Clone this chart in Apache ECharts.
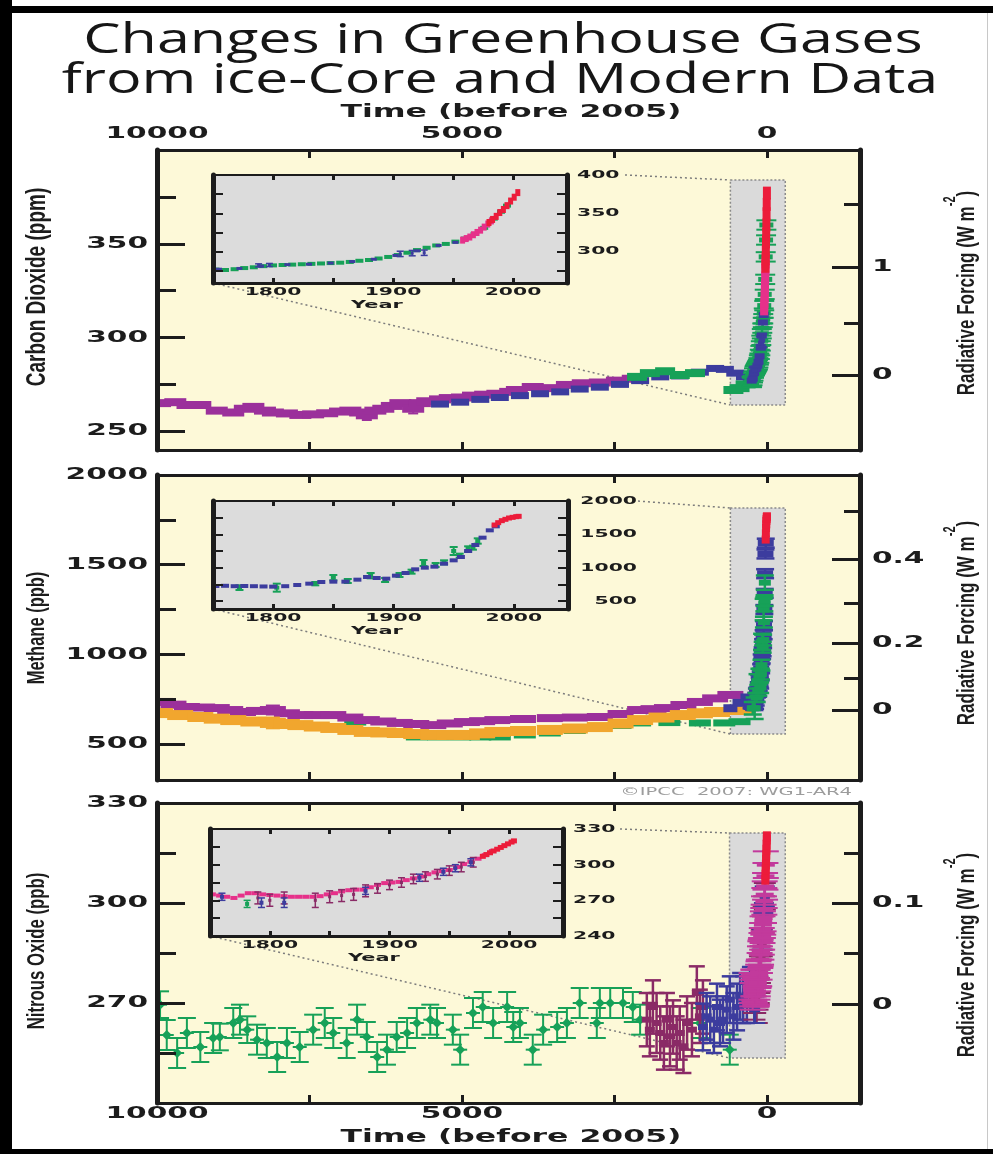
<!DOCTYPE html>
<html>
<head>
<meta charset="utf-8">
<title>Changes in Greenhouse Gases</title>
<script src="https://cdn.jsdelivr.net/npm/echarts@6/dist/echarts.min.js"></script>
<style>
html, body { margin: 0; padding: 0; background: #fff; }
#chart { width: 993px; height: 1154px; }
</style>
</head>
<body>
<div id="chart"></div>
<script>
// ---------- axes / ticks ----------
var timeTicks = [10000, 7500, 5000, 2500, 0];
var timeLabels = [10000, 5000, 0];
var yearTicks = [1800, 1850, 1900, 1950, 2000];
var yearLabels = [1800, 1900, 2000];

var co2Ticks = [250, 300, 350], co2Minor = [275, 325, 375];
var co2RfAt = [280, 337.6], co2RfLabels = ['0', '1'], co2RfMinor = [307.7, 371.2];
var co2InsetTicks = [275, 300, 325, 350, 375], co2InsetLabels = [300, 350, 400];
var co2Window = [600, -300, 264, 384];

var ch4Ticks = [500, 1000, 1500, 2000], ch4Minor = [750, 1250, 1750];
var ch4RfAt = [690, 1064, 1532], ch4RfLabels = ['0', '0.2', '0.4'], ch4RfMinor = [868, 1287, 1799];
var ch4InsetTicks = [500, 750, 1000, 1250, 1500, 1750], ch4InsetLabels = [500, 1000, 1500, 2000];
var ch4Window = [600, -300, 556, 1816];

var n2oTicks = [270, 300, 330], n2oMinor = [255, 285, 315];
var n2oRfAt = [269.5, 300], n2oRfLabels = ['0', '0.1'], n2oRfMinor = [285, 315];
var n2oInsetTicks = [255, 270, 285, 300, 315], n2oInsetLabels = [240, 270, 300, 330];
var n2oWindow = [614, -300, 253.5, 321];

// ---------- CO2 (ppm) : [years before 2005, value, error] ----------
var co2Purple = [[9950,265],[9700,265.5],[9500,264],[9290,264],[9020,261],[8750,260],[8560,262],[8420,263],[8230,261],[8100,260],
  [7870,259.5],[7650,258.7],[7440,259],[7210,259.6],[7000,260.5],[6830,261],[6670,260],[6560,258.5,2.5],[6420,261],[6290,262],
  [6150,263.5],[6010,265],[5800,262,2.5],[5690,265],[5570,266],[5360,267],[5200,267.7],[5000,268],[4820,269],[4620,269.5],
  [4420,270],[4210,271],[4100,272],[3840,273.6],[3560,273],[3280,274.7],[3020,275.6],[2740,276],[2460,277],[2200,278]];
var co2Blue = [[5360,264.5],[5030,265.5],[4700,267],[4380,268],[4050,269],[3720,270],[3390,271],[3070,272.5],[2740,273.5],
  [2410,275],[2080,277],[1750,279],[1430,279.5],[1100,281.5],[850,283.5],[690,283],[520,281],[360,279],[250,278]];
var co2Green = [[2130,279],[1920,281],[1670,282],[1430,280],[1180,281],[550,272],[450,273],[350,275]];
// modern records : [year, value, error]
var co2ModGreen = [[1752,276.5,2.5],[1760,276,2.5],[1768,277,2.5],[1776,278.5,2.5],[1784,279.5,2.5],[1792,281,2.5],[1800,282,2.5],
  [1808,282.5,2.5],[1816,283,2.5],[1824,283.5,2.5],[1832,284,2.5],[1840,284.5,2.5],[1848,285,2.5],[1856,285.5,2.5],[1864,286.5,2.5],
  [1872,288,2.5],[1880,289,2.5],[1888,291,2.5],[1896,293,2.5],[1904,295.5,2.5],[1912,298.5,2.5],[1920,302,2.5],[1928,305,2.5],
  [1936,308,2.5],[1944,310,2.5],[1952,313,2.5],[1960,317,2.5],[1968,323,2.5],[1976,331,2.5],[1984,343,2.5],[1990,352,2.5],[1995,360,2.5]];
var co2ModBlue = [[1755,277],[1772,278],[1790,281],[1812,283],[1830,283.5],[1848,285],[1866,287],[1884,290],[1902,295],[1920,301],[1938,308],[1952,312]];
var co2ModBars = [[1788,282,2],[1797,282.5,2],[1906,297,3.5],[1916,298,3.5],[1926,298.5,3.5]];
var co2ModPink = [[1958,315],[1961,317],[1964,319],[1967,322],[1970,325],[1973,328],[1976,332],[1979,336],[1982,340]];
var co2ModRed = [[1980,338],[1983,342],[1986,346],[1989,351],[1992,355],[1995,360],[1998,366],[2001,371],[2004,377]];

// ---------- CH4 (ppb) ----------
var ch4Purple = [[9950,735],[9730,720],[9510,707],[9260,704],[9020,701],[8800,690],[8590,679],[8330,685],[8100,690,25],[7870,672],
  [7650,662],[7380,662],[7110,662],[6830,648],[6560,634],[6290,626],[6020,618],[5750,612],[5470,606],[5200,615],[4920,623],
  [4670,628],[4420,634],[4000,640],[3560,645],[3150,648],[2740,651],[2400,668],[2080,690],[1860,695],[1640,701],[1370,718],
  [1100,735],[850,755],[600,774]];
var ch4Orange = [[9950,673],[9620,662],[9290,651],[9020,642],[8750,634],[8420,626],[8100,618,30],[7870,612],[7650,606],[7380,598],
  [7110,590],[6830,579],[6560,568],[6290,565],[6020,562],[5750,556],[5470,551],[5200,551],[4920,551],[4670,560],[4420,568],
  [4000,573],[3560,579],[3150,587],[2740,595],[2400,615],[2080,634],[1730,648],[1380,662],[1100,672],[820,679],[440,690]];
var ch4Green = [[6750,623],[5740,540],[5390,540],[5030,540],[4700,540],[4380,540],[3970,551],[3560,562],[3150,576],[2740,590],
  [2400,604],[2080,618],[1600,620],[1100,618],[700,618],[450,625]];
var ch4BlueOld = [[600,700],[450,730],[320,760]];
var ch4ModBlue = [[1752,725,25],[1760,728,25],[1768,722,25],[1776,725,25],[1784,722,25],[1792,718,25],[1800,715,25],[1810,722,25],
  [1820,740,25],[1830,760,25],[1840,785,25],[1850,790,25],[1860,790,25],[1870,820,25],[1878,860,25],[1886,845,25],[1894,835,25],
  [1902,880,25],[1910,920,25],[1918,975,25],[1926,1000,25],[1934,1015,25],[1942,1060,25],[1950,1110,25],[1956,1160,25],
  [1962,1250,25],[1968,1340,25],[1974,1450,25],[1980,1560,25],[1985,1620,25]];
var ch4ModGreen = [[1772,700,35],[1803,700,60],[1835,760,25],[1850,850,40],[1862,800,30],[1881,880,40],[1893,815,30],
  [1905,890,30],[1915,940,30],[1925,1070,45],[1935,1040,30],[1942,1080,30],[1950,1250,60],[1955,1180,30],[1962,1280,40],
  [1966,1300,30],[1970,1400,40]];
var ch4ModRed = [[1984,1640],[1987,1675],[1990,1705],[1993,1725],[1996,1745],[1999,1755],[2002,1765],[2004,1770]];

// ---------- N2O (ppb) ----------
var n2oGreen = [[9950,269.5,4],[9840,260.4,4.5],[9670,255,4.5],[9510,261,4.5],[9290,256.8,4.5],[9080,259.5,4.5],[8970,259.8,4],
  [8750,264,4.5],[8640,265,4.5],[8520,262,4],[8360,259,4.5],[8200,258,4.5],[8030,253.8,4.5],[7870,258,4.5],[7660,256.8,4.5],
  [7440,262,4.5],[7250,264,4.5],[7110,261,4.5],[6890,258,4.5],[6720,265,4.5],[6560,259.8,4.5],[6390,253.8,4.5],[6230,256,4.5],
  [6070,259.8,4.5],[5900,261,4.5],[5740,264,4.5],[5520,265,4.5],[5410,264,4.5],[5150,262,4.5],[5030,256,4.5],[4820,267,4.5],
  [4660,268.8,4.5],[4490,264,4.5],[4260,268.8,4.5],[4160,262.8,4.5],[4050,264,4.5],[3840,256,4.5],[3670,262,4.5],[3440,262.8,4.5],
  [3280,264,4.5],[3070,270,4.5],[2790,264,4.5],[2740,270,4.5],[2570,270,4.5],[2360,270,4.5],[2200,268.8,4.5],[2080,265,4.5],
  [1100,264,4.5],[610,256,4.5]];
var n2oMaroon = [[1970,265,8],[1920,262,8],[1870,268.8,8],[1810,264,9],[1750,261,8],[1690,258,8],[1640,265,8],[1590,260,9],
  [1540,262.8,8],[1480,258,8],[1430,261,8],[1370,257,8],[1310,264,8],[1230,262,8],[1150,273,8],[1100,266,8],[1050,268.8,8]];
var n2oBlue = [[1050,262.8,7],[990,266,7],[930,265,7],[870,262,7],[820,268.8,7],[770,264,7],[720,265,7],[660,268,7],
  [610,271,7],[550,266,7],[490,268.8,7],[440,272,7],[390,271,7],[330,270,6],[280,274.8,6]];
var n2oModPink = [[1752,275,4],[1758,274,4],[1764,273,4],[1770,272,4],[1776,274,4],[1782,276,4],[1788,276,4],[1794,275,4],
  [1800,274.5,4],[1806,274,4],[1812,273.5,4],[1818,273,4],[1824,273,4],[1830,273,4],[1836,273,4],[1842,273.5,4],[1848,275,4],
  [1854,276,4],[1860,277.5,4],[1866,278.5,4],[1872,279,4],[1878,279,4],[1884,281,4],[1890,283,4],[1896,284.5,4],[1902,285,4],
  [1908,285.5,4],[1914,287,4],[1920,288.5,4],[1926,290,4],[1932,292,4],[1938,293.5,4],[1944,294.5,4],[1950,295.5,4],[1956,298,4],
  [1962,300.5,4],[1968,302.5,4],[1974,305,4],[1980,308,4],[1986,311.5,4]];
var n2oModMaroon = [[1790,272,5],[1800,270,5],[1812,272,5],[1838,270,6],[1850,273,5],[1860,274,5],[1870,275,5],[1880,278,5],
  [1890,280,4],[1900,283,4],[1910,285,4],[1920,288,4],[1930,290,4],[1940,292,4],[1950,295,4],[1960,298,4],[1970,302,4]];
var n2oModBlue = [[1760,273,3],[1793,268,4],[1812,268,4],[1880,278,3],[1925,289,3],[1945,294,3],[1955,297,3],[1968,302,3]];
var n2oModGreen = [[1781,267,3]];
var n2oModRed = [[1978,307],[1981,308.5],[1984,310],[1987,311.5],[1990,313],[1993,314.5],[1996,316],[1999,317.5],[2002,319],[2004,320]];

// ---------- drawing ----------
var INK = '#1c1c1c';
var PURPLE = '#9b309b', BLUE = '#3c3c9e', GREEN = '#17a158', RED = '#ec1c3a', PINK = '#e6318a',
    ORANGE = '#f1a62e', MAROON = '#8a2a66', MAGENTA = '#c23a9c';

var panels = [
  {top: 150, h: 300, ymin: 240, ymax: 400, major: co2Ticks, minor: co2Minor, rfAt: co2RfAt, rfLabels: co2RfLabels, rfMinor: co2RfMinor,
   win: co2Window, inset: {left: 213, top: 175, width: 354, height: 108, ymin: 259, ymax: 400, labW: 58, ticks: co2InsetTicks, labels: co2InsetLabels, alignRight: false}},
  {top: 475, h: 305, ymin: 300, ymax: 2000, major: ch4Ticks, minor: ch4Minor, rfAt: ch4RfAt, rfLabels: ch4RfLabels, rfMinor: ch4RfMinor,
   win: ch4Window, inset: {left: 213, top: 501, width: 355, height: 108, ymin: 380, ymax: 2000, labW: 70, ticks: ch4InsetTicks, labels: ch4InsetLabels, alignRight: true}},
  {top: 803, h: 300, ymin: 240, ymax: 330, major: n2oTicks, minor: n2oMinor, rfAt: n2oRfAt, rfLabels: n2oRfLabels, rfMinor: n2oRfMinor,
   win: n2oWindow, inset: {left: 210, top: 829, width: 353, height: 107, ymin: 240, ymax: 330, labW: 57, ticks: n2oInsetTicks, labels: n2oInsetLabels, alignRight: false}}
];

function toAge(rows) {
  return rows.map(function (r) { return [2005 - r[0], r[1], r[2] || 0]; });
}

function mainX(g, pos) {
  return {type: 'value', gridIndex: g, position: pos, min: -1525, max: 10000, inverse: true, z: 6,
    axisLine: {show: true, onZero: false, lineStyle: {color: INK, width: 3}},
    axisTick: {show: true, inside: true, length: 8, customValues: timeTicks, lineStyle: {color: INK, width: 3}},
    axisLabel: {show: false}, splitLine: {show: false}};
}
function insetX(g, pos, lw) {
  return {type: 'value', gridIndex: g, position: pos, min: 1750, max: 2045, z: 8,
    axisLine: {show: true, onZero: false, lineStyle: {color: INK, width: lw}},
    axisTick: {show: true, inside: true, length: 5, customValues: yearTicks, lineStyle: {color: INK, width: 3}},
    axisLabel: {show: false}, splitLine: {show: false}};
}
function yAx(g, pos, min, max, vals, len, lineW, tickW, z) {
  return {type: 'value', gridIndex: g, position: pos, min: min, max: max, z: z,
    axisLine: {show: lineW > 0, onZero: false, lineStyle: {color: INK, width: lineW || 1}},
    axisTick: {show: true, inside: true, length: len, customValues: vals, lineStyle: {color: INK, width: tickW}},
    axisLabel: {show: false}, splitLine: {show: false}};
}

// one data point = marker + optional error bar with caps
function markRender(s) {
  return function (params, api) {
    var x = api.value(0), y = api.value(1), e = api.value(2);
    var c = api.coord([x, y]);
    var kids = [];
    if (s.err !== false && e > 0) {
      var t = api.coord([x, y + e])[1], b = api.coord([x, y - e])[1], hw = s.cap / 2;
      var ls = {stroke: s.color, lineWidth: s.lw};
      kids.push({type: 'line', shape: {x1: c[0], y1: t, x2: c[0], y2: b}, style: ls});
      kids.push({type: 'line', shape: {x1: c[0] - hw, y1: t, x2: c[0] + hw, y2: t}, style: ls});
      kids.push({type: 'line', shape: {x1: c[0] - hw, y1: b, x2: c[0] + hw, y2: b}, style: ls});
    }
    if (s.diamond) {
      var r = s.diamond;
      kids.push({type: 'line', shape: {x1: c[0] - s.w / 2, y1: c[1], x2: c[0] + s.w / 2, y2: c[1]}, style: {stroke: s.color, lineWidth: 2}});
      kids.push({type: 'polygon', shape: {points: [[c[0], c[1] - r], [c[0] + r, c[1]], [c[0], c[1] + r], [c[0] - r, c[1]]]}, style: {fill: s.color}});
    } else {
      kids.push({type: 'rect', shape: {x: c[0] - s.w / 2, y: c[1] - s.h / 2, width: s.w, height: s.h}, style: {fill: s.color}});
    }
    return {type: 'group', children: kids};
  };
}
function marks(p, inset, data, s, z) {
  return {type: 'custom', coordinateSystem: 'cartesian2d',
    xAxisIndex: 4 * p + (inset ? 2 : 0), yAxisIndex: 6 * p + (inset ? 4 : 0),
    dimensions: ['x', 'y', 'e'], encode: {x: 0, y: 1},
    data: data, renderItem: markRender(s), clip: true, silent: true, z: z};
}

// grey zoom window in the main panel with its dotted leaders to the inset
function boxSeries(p, win, ins) {
  return {type: 'custom', coordinateSystem: 'cartesian2d', xAxisIndex: 4 * p, yAxisIndex: 6 * p,
    dimensions: ['x', 'y'], encode: {x: 0, y: 1}, data: [[win[0], win[2]]], silent: true, clip: false, z: 1,
    renderItem: function (params, api) {
      var a = api.coord([win[0], win[3]]), b = api.coord([win[1], win[2]]);
      var dot = {stroke: '#7c7c7c', lineWidth: 1.5, lineDash: [2, 3]};
      return {type: 'group', children: [
        {type: 'rect', shape: {x: a[0], y: a[1], width: b[0] - a[0], height: b[1] - a[1]},
         style: {fill: '#dadada', stroke: '#8a8a8a', lineWidth: 1.5, lineDash: [2, 2]}},
        {type: 'line', shape: {x1: ins.left + ins.width + ins.labW, y1: ins.top, x2: a[0], y2: a[1]}, style: dot},
        {type: 'line', shape: {x1: ins.left, y1: ins.top + ins.height, x2: a[0], y2: b[1]}, style: dot}
      ]};
    }};
}

// tick labels, placed through the axes' own scales
function textSeries(xi, yi, vals, texts, side, size, sx) {
  return {type: 'custom', coordinateSystem: 'cartesian2d', xAxisIndex: xi, yAxisIndex: yi,
    dimensions: ['x', 'y'], encode: {x: 0, y: 1}, silent: true, clip: false, z: 12,
    data: vals.map(function (v) { return [v, v]; }),
    renderItem: function (params, api) {
      var cs = params.coordSys, pt = api.coord([api.value(0), api.value(1)]);
      var x = pt[0], y = pt[1], align = 'center';
      if (side === 'left') { x = cs.x - 9; align = 'right'; }
      else if (side === 'right') { x = cs.x + cs.width + 12; align = 'left'; }
      else if (side === 'top') { y = cs.y - 16; }
      else if (side === 'bottom') { y = cs.y + cs.height + 11; }
      else if (side === 'insetBottom') { y = cs.y + cs.height + 9; }
      else if (side === 'insetRight') { x = cs.x + cs.width + 10; align = 'left'; }
      else if (side === 'insetRightR') { x = cs.x + cs.width + 69; align = 'right'; }
      return {type: 'text', x: x, y: y, scaleX: sx,
        style: {text: String(texts[params.dataIndex]), fontSize: size, fontWeight: 'bold', fontFamily: 'DejaVu Sans',
          fill: INK, align: align, verticalAlign: 'middle', textAlign: align, textVerticalAlign: 'middle'}};
    }};
}

var grids = [], xAxes = [], yAxes = [], series = [];
panels.forEach(function (p, i) {
  var ins = p.inset;
  grids.push({left: 157, top: p.top, width: 703, height: p.h, show: true, backgroundColor: '#fdf9d8', borderWidth: 0, z: 0});
  grids.push({left: ins.left, top: ins.top, width: ins.width, height: ins.height, show: true, backgroundColor: '#dcdcdc', borderWidth: 0, z: 3});
  xAxes.push(mainX(2 * i, 'bottom'), mainX(2 * i, 'top'), insetX(2 * i + 1, 'bottom', 3), insetX(2 * i + 1, 'top', 2));
  yAxes.push(
    yAx(2 * i, 'left', p.ymin, p.ymax, p.major, 28, 5, 3, 6),
    yAx(2 * i, 'left', p.ymin, p.ymax, p.minor, 19, 0, 3, 6),
    yAx(2 * i, 'right', p.ymin, p.ymax, p.rfAt, 28, 5, 3, 6),
    yAx(2 * i, 'right', p.ymin, p.ymax, p.rfMinor, 16, 0, 3, 6),
    yAx(2 * i + 1, 'left', ins.ymin, ins.ymax, ins.ticks, 10, 5, 2, 8),
    yAx(2 * i + 1, 'right', ins.ymin, ins.ymax, ins.ticks, 10, 5, 2, 8));
  series.push(boxSeries(i, p.win, ins));
  series.push(textSeries(4 * i, 6 * i, p.major, p.major, 'left', 16, 1.85));
  series.push(textSeries(4 * i, 6 * i, p.rfAt, p.rfLabels, 'right', 16, 1.85));
  series.push(textSeries(4 * i + 2, 6 * i + 4, yearLabels, yearLabels, 'insetBottom', 11, 1.85));
  series.push(textSeries(4 * i + 2, 6 * i + 4, ins.labels, ins.labels, ins.alignRight ? 'insetRightR' : 'insetRight', 11, 1.85));
});
series.push(textSeries(0, 0, timeLabels, timeLabels, 'top', 16, 1.85));
series.push(textSeries(8, 12, timeLabels, timeLabels, 'bottom', 16, 1.85));

// CO2
series.push(
  marks(0, false, co2Purple, {color: PURPLE, w: 22, h: 8, cap: 10, lw: 2}, 2),
  marks(0, false, co2Blue, {color: BLUE, w: 18, h: 7}, 2),
  marks(0, false, co2Green, {color: GREEN, w: 20, h: 8}, 2),
  marks(0, false, toAge(co2ModGreen), {color: GREEN, w: 14, h: 5, cap: 20, lw: 2}, 2),
  marks(0, false, toAge(co2ModBlue), {color: BLUE, w: 10, h: 6}, 2),
  marks(0, false, toAge(co2ModBars), {color: BLUE, w: 6, h: 4, cap: 10, lw: 2}, 2),
  marks(0, false, toAge(co2ModPink), {color: PINK, w: 8, h: 12}, 2),
  marks(0, false, toAge(co2ModRed), {color: RED, w: 8, h: 13}, 2),
  marks(0, true, co2ModGreen, {color: GREEN, w: 8, h: 4, err: false}, 4),
  marks(0, true, co2ModBlue, {color: BLUE, w: 6, h: 3}, 4),
  marks(0, true, co2ModBars, {color: BLUE, w: 3, h: 3, cap: 7, lw: 1.5}, 4),
  marks(0, true, co2ModPink, {color: PINK, w: 5, h: 7}, 4),
  marks(0, true, co2ModRed, {color: RED, w: 5, h: 7}, 4)
);
// CH4
series.push(
  marks(1, false, ch4Green, {color: GREEN, w: 22, h: 7}, 2),
  marks(1, false, ch4Purple, {color: PURPLE, w: 26, h: 8, cap: 14, lw: 2}, 2),
  marks(1, false, ch4Orange, {color: ORANGE, w: 26, h: 10, cap: 14, lw: 2}, 2),
  marks(1, false, ch4BlueOld, {color: BLUE, w: 14, h: 8}, 2),
  marks(1, false, toAge(ch4ModBlue), {color: BLUE, w: 16, h: 7, cap: 18, lw: 2.5}, 2),
  marks(1, false, toAge(ch4ModGreen), {color: GREEN, w: 12, h: 6, cap: 18, lw: 2.5}, 2),
  marks(1, false, toAge(ch4ModRed), {color: RED, w: 8, h: 8}, 2),
  marks(1, true, ch4ModGreen, {color: GREEN, w: 5, h: 4, cap: 8, lw: 2}, 4),
  marks(1, true, ch4ModBlue, {color: BLUE, w: 8, h: 4, err: false}, 4),
  marks(1, true, ch4ModRed, {color: RED, w: 6, h: 5}, 4)
);
// N2O
series.push(
  marks(2, false, n2oGreen, {color: GREEN, w: 14, h: 6, cap: 18, lw: 2, diamond: 5}, 2),
  marks(2, false, n2oMaroon, {color: MAROON, w: 10, h: 6, cap: 16, lw: 2.5}, 2),
  marks(2, false, n2oBlue, {color: BLUE, w: 10, h: 6, cap: 16, lw: 2.5}, 2),
  marks(2, false, toAge(n2oModMaroon), {color: MAROON, w: 10, h: 5, cap: 22, lw: 2}, 2),
  marks(2, false, toAge(n2oModBlue), {color: BLUE, w: 10, h: 5, cap: 20, lw: 2}, 2),
  marks(2, false, toAge(n2oModPink), {color: MAGENTA, w: 18, h: 4, cap: 26, lw: 2}, 2),
  marks(2, false, toAge(n2oModRed), {color: RED, w: 8, h: 10}, 2),
  marks(2, true, n2oModPink, {color: PINK, w: 7, h: 4, err: false}, 4),
  marks(2, true, n2oModMaroon, {color: MAROON, w: 3, h: 3, cap: 7, lw: 1.5}, 4),
  marks(2, true, n2oModBlue, {color: BLUE, w: 4, h: 4, cap: 7, lw: 1.5}, 4),
  marks(2, true, n2oModGreen, {color: GREEN, w: 4, h: 4, cap: 7, lw: 1.5}, 4),
  marks(2, true, n2oModRed, {color: RED, w: 6, h: 5}, 4)
);

function label(text, x, y, size, family, weight, sx, color) {
  return {type: 'text', x: x, y: y, scaleX: sx, z: 20, silent: true,
    style: {text: text, fontSize: size, fontFamily: family, fontWeight: weight, fill: color || INK,
      align: 'center', verticalAlign: 'middle', textAlign: 'center', textVerticalAlign: 'middle'}};
}
function sideName(text, x, y, size) {
  return {type: 'text', x: x, y: y, rotation: Math.PI / 2, scaleY: 1.45, z: 20, silent: true,
    style: {text: text, fontSize: size, fontWeight: 'bold', fontFamily: 'Liberation Sans', fill: INK,
      align: 'center', verticalAlign: 'middle', textAlign: 'center', textVerticalAlign: 'middle'}};
}
function rfName(x, y) {
  return {type: 'text', x: x, y: y, rotation: Math.PI / 2, scaleY: 1.45, z: 20, silent: true,
    style: {text: '{a|Radiative Forcing (W m}{s|-2}{a|)}', align: 'center', verticalAlign: 'middle',
      rich: {a: {fontSize: 17, fontWeight: 'bold', fontFamily: 'Liberation Sans', fill: INK, verticalAlign: 'bottom', lineHeight: 25},
             s: {fontSize: 11, fontWeight: 'bold', fontFamily: 'Liberation Sans', fill: INK, verticalAlign: 'top', lineHeight: 25}}}};
}

var graphics = [
  {type: 'rect', shape: {x: 0, y: 0, width: 12, height: 1154}, style: {fill: '#000'}, z: 50, silent: true},
  {type: 'rect', shape: {x: 0, y: 6, width: 993, height: 7}, style: {fill: '#000'}, z: 50, silent: true},
  {type: 'rect', shape: {x: 0, y: 1149, width: 993, height: 5}, style: {fill: '#000'}, z: 50, silent: true},
  {type: 'rect', shape: {x: 987, y: 13, width: 1, height: 1136}, style: {fill: '#c8c8c8'}, z: 50, silent: true},
  label('Changes in Greenhouse Gases', 503, 41, 42, 'Open Sans', 'normal', 1.41, '#161616'),
  label('from ice-Core and Modern Data', 500, 81, 42, 'Open Sans', 'normal', 1.41, '#161616'),
  label('Time (before 2005)', 511, 112, 18, 'DejaVu Sans', 'bold', 1.75),
  label('Time (before 2005)', 511, 1137, 18, 'DejaVu Sans', 'bold', 1.75),
  sideName('Carbon Dioxide (ppm)', 37, 287, 19),
  sideName('Methane (ppb)', 37, 628, 16.5),
  sideName('Nitrous Oxide (ppb)', 37, 951, 16.8),
  rfName(961, 293), rfName(961, 623), rfName(961, 955),
  {type: 'text', x: 852, y: 792, scaleX: 1.95, z: 20, silent: true,
   style: {text: '\u00A9IPCC  2007: WG1-AR4', fontSize: 10, fontFamily: 'DejaVu Sans', fill: '#9c9c9c',
     align: 'right', verticalAlign: 'middle', textAlign: 'right', textVerticalAlign: 'middle'}}
];
panels.forEach(function (p) {
  graphics.push(label('Year', p.inset.left + 164, p.inset.top + p.inset.height + 22, 11, 'DejaVu Sans', 'bold', 1.9));
});

var chart = echarts.init(document.getElementById('chart'));
chart.setOption({
  animation: false,
  backgroundColor: '#ffffff',
  grid: grids,
  xAxis: xAxes,
  yAxis: yAxes,
  series: series,
  graphic: graphics
});
</script>
</body>
</html>
